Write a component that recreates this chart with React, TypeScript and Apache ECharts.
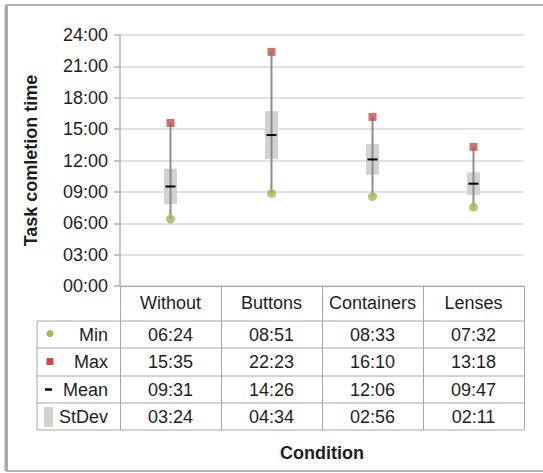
import React, { useEffect, useRef } from "react";
import * as echarts from "echarts";

const conditions = ["Without", "Buttons", "Containers", "Lenses"];
const minTimes = ["06:24", "08:51", "08:33", "07:32"];
const maxTimes = ["15:35", "22:23", "16:10", "13:18"];
const meanTimes = ["09:31", "14:26", "12:06", "09:47"];
const sdTimes = ["03:24", "04:34", "02:56", "02:11"];
const rowLabels = ["Min", "Max", "Mean", "StDev"];
const yTickStep = "03:00";
const yMaxLabel = "24:00";

const toSec = (s: string) => {
  const [m, ss] = s.split(":").map(Number);
  return m * 60 + ss;
};
const pad = (n: number) => (n < 10 ? "0" + n : "" + n);
const fmt = (v: number) => pad(Math.floor(v / 60)) + ":" + pad(Math.round(v % 60));

const W = 543;
const H = 473;
const GRID = { left: 120, right: 19, top: 35, bottom: 187 };
const ROW_LINES = [321, 348, 376, 403, 430];
const LEG_LEFT = 37;
const LABEL_RIGHT = 108;
const TEXT_COLOR = "#1e1e1e";
const TABLE_LINE = "#a6a6a6";
const FONT = "Liberation Sans, Arial, sans-serif";

export default function App() {
  const ref = useRef<HTMLDivElement>(null);
  useEffect(() => {
    if (!ref.current) return;
    const chart = echarts.init(ref.current, undefined, { renderer: "svg" });
    const rowsRaw = [minTimes, maxTimes, meanTimes, sdTimes];
    const boxData = conditions.map((c, i) => [
      i,
      toSec(minTimes[i]),
      toSec(maxTimes[i]),
      toSec(meanTimes[i]),
      toSec(sdTimes[i]),
    ]);
    chart.setOption({
      animation: false,
      textStyle: { fontFamily: FONT },
      grid: { ...GRID },
      xAxis: {
        type: "category",
        data: conditions,
        name: "Condition",
        nameLocation: "middle",
        nameGap: 158,
        nameTextStyle: { fontSize: 18, fontWeight: "bold", color: TEXT_COLOR, fontFamily: FONT },
        axisLine: { show: true, lineStyle: { color: TABLE_LINE, width: 1 } },
        axisTick: { show: true, length: 144, interval: 0, lineStyle: { color: TABLE_LINE, width: 1 } },
        axisLabel: { interval: 0, margin: 8, fontSize: 18, color: TEXT_COLOR, fontFamily: FONT },
        splitLine: { show: false },
      },
      yAxis: {
        type: "value",
        min: 0,
        max: toSec(yMaxLabel),
        interval: toSec(yTickStep),
        name: "Task comletion time",
        nameLocation: "middle",
        nameGap: 80,
        nameTextStyle: { fontSize: 18, fontWeight: "bold", color: TEXT_COLOR, fontFamily: FONT },
        axisLine: { show: true, lineStyle: { color: "#b3b3b3", width: 1.5 } },
        axisTick: { show: true, length: 6, lineStyle: { color: "#b3b3b3", width: 1.5 } },
        axisLabel: { margin: 12, fontSize: 18, color: TEXT_COLOR, fontFamily: FONT, formatter: (v: number) => fmt(v) },
        splitLine: { show: true, lineStyle: { color: "#d9d9d9", width: 1.5 } },
      },
      series: [
        {
          type: "custom",
          name: "range",
          data: boxData,
          encode: { x: 0, y: [1, 2] },
          z: 2,
          renderItem: (params: any, api: any) => {
            const x = api.value(0);
            const lo = api.coord([x, api.value(1)]);
            const hi = api.coord([x, api.value(2)]);
            const mean = api.value(3);
            const sd = api.value(4);
            const bt = api.coord([x, mean + sd / 2]);
            const bb = api.coord([x, mean - sd / 2]);
            const m = api.coord([x, mean]);
            return {
              type: "group",
              children: [
                { type: "rect", shape: { x: bt[0] - 6.5, y: bt[1], width: 13, height: bb[1] - bt[1] }, style: { fill: "#d2d2d2" } },
                { type: "line", shape: { x1: lo[0], y1: lo[1], x2: hi[0], y2: hi[1] }, style: { stroke: "#8c8c8c", lineWidth: 2 } },
                { type: "line", shape: { x1: m[0] - 5, y1: m[1], x2: m[0] + 5, y2: m[1] }, style: { stroke: "#000", lineWidth: 2 } },
              ],
            };
          },
        },
        {
          type: "scatter",
          name: "Min",
          data: minTimes.map((t, i) => [i, toSec(t)]),
          symbol: "circle",
          symbolSize: 9,
          itemStyle: { color: "#9bbb59" },
          z: 3,
        },
        {
          type: "scatter",
          name: "Max",
          data: maxTimes.map((t, i) => [i, toSec(t)]),
          symbol: "rect",
          symbolSize: 8,
          itemStyle: { color: "#c0504d" },
          z: 3,
        },
      ],
    });

    const right = W - GRID.right;
    const centers = conditions.map((_, i) => chart.convertToPixel({ xAxisIndex: 0 }, i) as number);
    const g: any[] = [];
    // outer frame
    g.push({ type: "rect", shape: { x: 7, y: 5, width: W + 10, height: 466 }, style: { fill: "none", stroke: "#b4b4b4", lineWidth: 2 }, z: 0 });
    g.push({ type: "line", shape: { x1: 6, y1: 5, x2: 6, y2: 471 }, style: { stroke: "#a8a8a8", lineWidth: 3 } });
    // table lines
    ROW_LINES.forEach((y) => {
      g.push({ type: "line", shape: { x1: LEG_LEFT, y1: y, x2: right, y2: y }, style: { stroke: TABLE_LINE, lineWidth: 1 } });
    });
    g.push({ type: "line", shape: { x1: LEG_LEFT, y1: ROW_LINES[0], x2: LEG_LEFT, y2: ROW_LINES[ROW_LINES.length - 1] }, style: { stroke: TABLE_LINE, lineWidth: 1 } });
    // rows
    rowLabels.forEach((lab, r) => {
      const cy = (ROW_LINES[r] + ROW_LINES[r + 1]) / 2;
      g.push({ type: "text", x: LABEL_RIGHT, y: cy, style: { text: lab, align: "right", verticalAlign: "middle", fontSize: 18, fill: TEXT_COLOR, fontFamily: FONT } });
      rowsRaw[r].forEach((v, i) => {
        g.push({ type: "text", x: centers[i], y: cy, style: { text: v, align: "center", verticalAlign: "middle", fontSize: 18, fill: TEXT_COLOR, fontFamily: FONT } });
      });
    });
    // legend keys
    const c0 = (ROW_LINES[0] + ROW_LINES[1]) / 2;
    const c1 = (ROW_LINES[1] + ROW_LINES[2]) / 2;
    const c2 = (ROW_LINES[2] + ROW_LINES[3]) / 2;
    g.push({ type: "circle", shape: { cx: 50, cy: c0 - 1, r: 3.5 }, style: { fill: "#9bbb59" } });
    g.push({ type: "rect", shape: { x: 46.5, y: c1 - 4, width: 7, height: 7 }, style: { fill: "#c0504d" } });
    g.push({ type: "line", shape: { x1: 45, y1: c2, x2: 52, y2: c2 }, style: { stroke: "#000", lineWidth: 2.5 } });
    g.push({ type: "rect", shape: { x: 44, y: ROW_LINES[3] + 4, width: 9, height: 20 }, style: { fill: "#d2d2d2" } });
    chart.setOption({ graphic: g });

    return () => chart.dispose();
  }, []);
  return <div ref={ref} style={{ position: "absolute", left: 0, top: 0, width: W, height: H }} />;
}
